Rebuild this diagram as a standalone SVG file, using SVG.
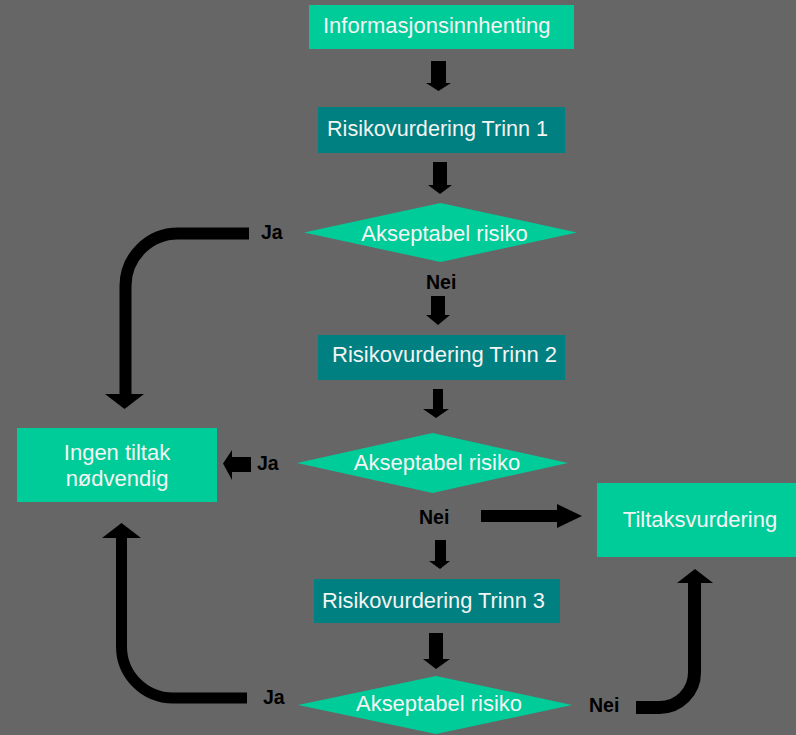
<svg xmlns="http://www.w3.org/2000/svg" width="796" height="735" viewBox="0 0 796 735">
  <style>
    .box-green { fill: #00CC99; }
    .box-teal { fill: #008080; }
    .txt { font-family: "Liberation Sans", Arial, sans-serif; font-size: 22px; fill: #F4F4F4; }
    .lbl { font-family: "Liberation Sans", Arial, sans-serif; font-size: 19.5px; font-weight: bold; fill: #000; }
    .arrow { fill: #000; }
    .bend { fill: none; stroke: #000; stroke-linecap: butt; }
  </style>

  <rect width="796" height="735" fill="#666666"/>

  <!-- connectors -->
  <g id="connectors">
    <!-- straight block arrows, top to bottom -->
    <polygon class="arrow" points="431,61 446,61 446,83 451,83 438.5,91 426,83 431,83"/>
    <polygon class="arrow" points="433,162 447,162 447,185 452,185 440,194 428,185 433,185"/>
    <polygon class="arrow" points="431,296 445,296 445,315 450,315 438,325 426,315 431,315"/>
    <polygon class="arrow" points="433,389 443,389 443,409 449,409 436,418 423,409 433,409"/>
    <!-- Ja, step 2 -> Ingen tiltak -->
    <polygon class="arrow" points="251,457 251,472 232,472 232,480 223,463.5 232,450 232,457"/>
    <!-- Nei, step 2 -> Tiltaksvurdering -->
    <polygon class="arrow" points="481,510 557,510 557,504 582,516 557,528 557,522 481,522"/>
    <!-- Nei, step 2 -> step 3 -->
    <polygon class="arrow" points="435,540 446,540 446,561 450,561 440,569 429,561 435,561"/>
    <!-- step 3 -> decision 3 -->
    <polygon class="arrow" points="429,633 443,633 443,659 450,659 436,669 423,659 429,659"/>

    <!-- bent arrows -->
    <path class="bend" stroke-width="12" d="M249,233.5 H178 A52.5,52.5 0 0 0 125.5,286 V395"/>
    <polygon class="arrow" points="105,394 144,394 124.5,409"/>

    <path class="bend" stroke-width="11" d="M247,698 H173 A51.5,51.5 0 0 1 121.5,646.5 V537"/>
    <polygon class="arrow" points="102,538 141,538 121.5,523"/>

    <path class="bend" stroke-width="13" d="M636,707.5 H659.5 A35,35 0 0 0 694.5,672.5 V582"/>
    <polygon class="arrow" points="677,583 713,583 695,569"/>

    <!-- branch labels -->
    <text class="lbl" x="261" y="239">Ja</text>
    <text class="lbl" x="426" y="289">Nei</text>
    <text class="lbl" x="257" y="470">Ja</text>
    <text class="lbl" x="419" y="524">Nei</text>
    <text class="lbl" x="263" y="704">Ja</text>
    <text class="lbl" x="589" y="712">Nei</text>
  </g>

  <g id="informasjonsinnhenting">
    <rect class="box-green" x="309" y="5" width="265" height="44"/>
    <text class="txt" x="323" y="33">Informasjonsinnhenting</text>
  </g>

  <g id="trinn1">
    <rect class="box-teal" x="318" y="107" width="247" height="46"/>
    <text class="txt" x="327" y="136" textLength="221" lengthAdjust="spacingAndGlyphs">Risikovurdering Trinn 1</text>
  </g>

  <g id="beslutning1">
    <polygon class="box-green" points="304,232.5 440.5,203 577,232.5 440.5,262"/>
    <text class="txt" x="444.5" y="241" text-anchor="middle">Akseptabel risiko</text>
  </g>

  <g id="trinn2">
    <rect class="box-teal" x="318" y="335" width="247" height="45"/>
    <text class="txt" x="332" y="362" textLength="225" lengthAdjust="spacingAndGlyphs">Risikovurdering Trinn 2</text>
  </g>

  <g id="beslutning2">
    <polygon class="box-green" points="297,463 432.5,433 568,463 432.5,493"/>
    <text class="txt" x="437" y="470" text-anchor="middle">Akseptabel risiko</text>
  </g>

  <g id="ingen-tiltak">
    <rect class="box-green" x="17" y="428" width="200" height="74"/>
    <text class="txt" x="117" y="460" text-anchor="middle">Ingen tiltak</text>
    <text class="txt" x="117" y="486" text-anchor="middle">nødvendig</text>
  </g>

  <g id="tiltaksvurdering">
    <rect class="box-green" x="597" y="483" width="199" height="74"/>
    <text class="txt" x="700" y="527" text-anchor="middle">Tiltaksvurdering</text>
  </g>

  <g id="trinn3">
    <rect class="box-teal" x="314" y="579" width="246" height="44"/>
    <text class="txt" x="322" y="608" textLength="223" lengthAdjust="spacingAndGlyphs">Risikovurdering Trinn 3</text>
  </g>

  <g id="beslutning3">
    <polygon class="box-green" points="298,705 436,676 572,705 436,734"/>
    <text class="txt" x="439" y="711" text-anchor="middle" textLength="166" lengthAdjust="spacingAndGlyphs">Akseptabel risiko</text>
  </g>
</svg>
